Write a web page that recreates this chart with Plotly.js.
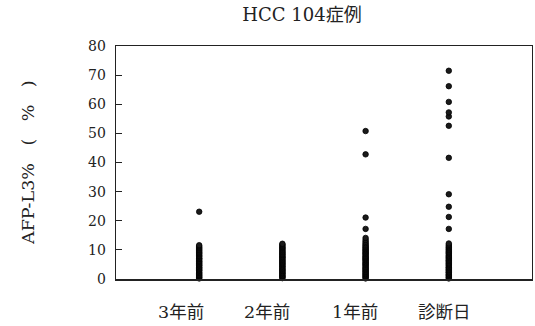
<!DOCTYPE html>
<html><head><meta charset="utf-8">
<script src="https://cdn.plot.ly/plotly-3.0.1.min.js"></script>
<style>html,body{margin:0;padding:0;background:#fff}</style>
</head><body><div id="chart" style="width:535px;height:326px"></div>
<script>
const categories = ["3年前", "2年前", "1年前", "診断日"];
const catPos = [1, 2, 3, 4];
const labelShift = [-18, -15, -11, -4];
const yTicks = [0, 10, 20, 30, 40, 50, 60, 70, 80];

const vals3y = [0.2,0.5,0.7,1.0,1.3,1.5,1.9,2.1,2.4,2.8,3.0,3.3,3.6,3.9,4.1,4.5,4.7,5.0,5.3,5.6,5.9,6.1,6.4,6.8,7.0,7.2,7.6,7.9,8.1,8.5,8.8,9.1,9.4,9.8,10.1,10.5,10.8,11.2,11.6,23.1];
const vals2y = [0.3,0.6,0.9,1.1,1.4,1.8,2.0,2.3,2.7,2.9,3.2,3.5,3.8,4.2,4.4,4.8,5.1,5.4,5.7,6.0,6.3,6.6,6.9,7.3,7.5,7.8,8.2,8.4,8.7,9.1,9.3,9.7,10.0,10.4,10.7,11.0,11.4,11.8,12.1];
const vals1y = [0.2,0.5,0.8,1.1,1.4,1.7,2.0,2.4,2.6,3.0,3.3,3.6,3.9,4.2,4.6,4.9,5.2,5.5,5.8,6.2,6.5,6.8,7.1,7.4,7.7,8.0,8.4,8.7,9.0,9.3,9.7,10.0,10.3,10.7,11.0,11.4,11.8,12.3,12.8,13.4,14.1,17.2,21.1,42.8,50.8];
const valsDx = [0.2,0.5,0.8,1.2,1.4,1.7,2.1,2.3,2.6,3.0,3.2,3.6,3.9,4.1,4.5,4.8,5.1,5.4,5.7,6.1,6.3,6.6,7.0,7.3,7.6,7.9,8.2,8.6,8.9,9.2,9.5,9.9,10.2,10.6,10.9,11.3,11.7,12.2,17.2,21.3,24.8,29.1,41.6,52.6,55.8,57.2,60.8,66.2,71.5];

const series = [vals3y, vals2y, vals1y, valsDx];

const FONT = "'DejaVu Serif', 'Noto Sans CJK JP', serif";
const INK = "#222";

const traces = series.map((v, i) => ({
  type: "scatter",
  mode: "markers",
  x: v.map(() => catPos[i]),
  y: v,
  cliponaxis: false,
  marker: { size: 5.5, color: "#1a1a1a", line: { width: 0.8, color: "#000" } },
  hoverinfo: "y",
  showlegend: false
}));

const annotations = categories.map((c, i) => ({
  text: c, x: catPos[i], y: 0, xref: "x", yref: "y",
  xanchor: "center", yanchor: "top", yshift: -21, xshift: labelShift[i],
  showarrow: false, font: { family: FONT, size: 17.5, color: INK }
}));
annotations.push({
  text: "AFP-L3%\u3000(\u3000%\u3000)", textangle: -90,
  x: 0, y: 0.5, xref: "paper", yref: "paper",
  xanchor: "center", yanchor: "middle", xshift: -88.5,
  showarrow: false, font: { family: FONT, size: 17.5, color: INK }
});

const layout = {
  width: 535, height: 326,
  margin: { l: 116, r: 3, t: 46, b: 47 },
  paper_bgcolor: "#fff", plot_bgcolor: "#fff",
  title: { text: "HCC 104症例", x: 302 / 535, xanchor: "center", y: 1 - 15 / 326, yanchor: "middle",
           font: { family: FONT, size: 18, color: INK } },
  xaxis: { range: [0, 5], showgrid: false, zeroline: false, showticklabels: false, ticks: "",
           showline: true, linecolor: "#222", linewidth: 1.5, mirror: true, fixedrange: true },
  yaxis: { range: [0, 80], tickvals: yTicks, ticktext: yTicks.map(String), ticks: "inside", ticklen: 6,
           tickcolor: "#222", tickwidth: 1.2, showgrid: false, zeroline: false,
           showline: true, linecolor: "#222", linewidth: 1.3, mirror: true,
           ticklabelstandoff: 6,
           tickfont: { family: FONT, size: 14, color: INK }, fixedrange: true },
  annotations: annotations
};

Plotly.newPlot("chart", traces, layout, { displayModeBar: false, staticPlot: true });
</script></body></html>
